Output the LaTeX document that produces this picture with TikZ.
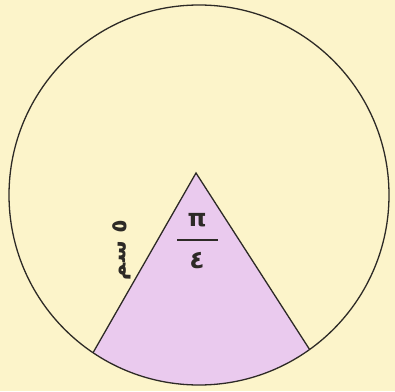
\documentclass[tikz,border=0pt]{standalone}
\usepackage{fontspec}
\usetikzlibrary{calc}
\newfontfamily\arabicfont[Script=Arabic]{DejaVu Sans}
\newfontfamily\greekfont{DejaVu Sans}
\TeXXeTstate=1
\definecolor{bgyellow}{RGB}{252,244,202}
\definecolor{sectorpink}{RGB}{234,202,238}
\definecolor{inkline}{RGB}{45,42,38}
\tikzset{
  outline/.style={draw=inkline, line width=1.3pt},
  labeltext/.style={inner sep=0pt, text=inkline}
}
\begin{document}
\begin{tikzpicture}[x=1pt,y=1pt]
  \fill[bgyellow] (0,0) rectangle (395,391);
  \useasboundingbox (0,0) rectangle (395,391);
  \coordinate (O) at (199,196);
  \coordinate (A) at (196,218);
  \coordinate (L) at ($(O)+(236.1:190)$);
  \coordinate (R) at ($(O)+(305.6:190)$);
  % sector
  \fill[sectorpink] (A) -- (L) arc[start angle=236.1, end angle=305.6, radius=190] -- cycle;
  \draw[outline] (O) circle[radius=190];
  \draw[outline] (L) -- (A) -- (R);
  % fraction pi/4
  \node[labeltext, font=\fontsize{24}{24}\selectfont\greekfont\bfseries] (pi) at (197,171) {π};
  \draw[inkline, line width=1.6pt] (177,151) -- (218,151);
  \node[labeltext, font=\fontsize{25}{25}\selectfont\arabicfont\bfseries] (four) at (197,130) {٤};
  % side label
  \node[labeltext, rotate=88, font=\fontsize{22}{22}\selectfont\arabicfont\bfseries] (side) at (122,141) {\beginR ٥ سم\endR};
\end{tikzpicture}
\end{document}
